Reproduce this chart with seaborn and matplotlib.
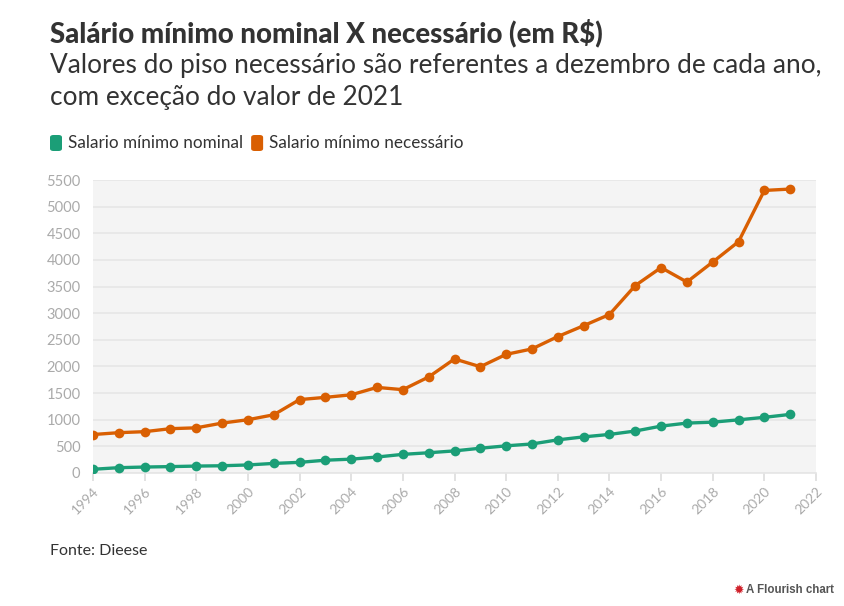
import matplotlib
matplotlib.use("Agg")
import matplotlib.pyplot as plt
import seaborn as sns
import pandas as pd
from matplotlib.patches import FancyBboxPatch

sns.set_theme(style="white")
plt.rcParams["font.family"] = ["Lato", "DejaVu Sans"]

anos = list(range(1994, 2022))
nominal = [70, 100, 112, 120, 130, 136, 151, 180, 200, 240, 260, 300, 350, 380,
           415, 465, 510, 545, 622, 678, 724, 788, 880, 937, 954, 998, 1045, 1100]
necessario = [722, 757, 776, 832, 848, 937, 1000, 1093, 1378, 1420, 1468, 1607, 1564, 1803,
              2141, 1995, 2227, 2329, 2561, 2765, 2975, 3518, 3856, 3585, 3960, 4342, 5304, 5330]
nomes = ["Salario mínimo nominal", "Salario mínimo necessário"]
cores = ["#1b9e77", "#d95f02"]

df = pd.DataFrame({"Ano": anos * 2,
                   "Valor": nominal + necessario,
                   "Serie": [nomes[0]] * len(anos) + [nomes[1]] * len(anos)})

fig = plt.figure(figsize=(8.44, 6.06), dpi=100)
ax = fig.add_axes([93 / 844, 1 - 473 / 606, (816 - 93) / 844, (473 - 180) / 606])
ax.set_facecolor("#f4f4f4")

sns.lineplot(data=df, x="Ano", y="Valor", hue="Serie", palette=cores, marker="o",
             markersize=7, markeredgewidth=0, linewidth=2.4, ax=ax, legend=False, zorder=3)

ax.set_xlim(1994, 2022)
ax.set_ylim(0, 5500)
ax.set_yticks(range(0, 5501, 500))
ax.set_xticks(range(1994, 2023, 2))
ax.grid(axis="y", color="#e6e6e6", linewidth=1.2, zorder=0)
ax.grid(axis="x", visible=False)
for s in ["top", "right", "left"]:
    ax.spines[s].set_visible(False)
ax.spines["bottom"].set_color("#e6e6e6")
ax.tick_params(axis="y", colors="#aaaaaa", labelcolor="#aaaaaa", labelsize=10.5, length=0, pad=9)
ax.tick_params(axis="x", colors="#dddddd", labelcolor="#aaaaaa", labelsize=10, length=6,
               width=1.2, direction="out", bottom=True, pad=3)
for lab in ax.get_xticklabels():
    lab.set_rotation(45)
    lab.set_ha("right")
    lab.set_va("top")
    lab.set_rotation_mode("anchor")
ax.set_xlabel("")
ax.set_ylabel("")

fig.text(50 / 844, 1 - 33 / 606, "Salário mínimo nominal X necessário (em R$)",
         fontsize=19.9, fontweight="black", color="#333333", va="center", ha="left")
fig.text(50 / 844, 1 - 65 / 606, "Valores do piso necessário são referentes a dezembro de cada ano,",
         fontsize=18.9, color="#333333", va="center", ha="left")
fig.text(50 / 844, 1 - 98 / 606, "com exceção do valor de 2021",
         fontsize=18.9, color="#333333", va="center", ha="left")

# legenda
x0 = 50
for nome, cor in zip(nomes, cores):
    fig.patches.append(FancyBboxPatch((x0 / 844, 1 - 151 / 606), 12 / 844, 16 / 606,
                                      boxstyle="round,pad=0,rounding_size=0.004",
                                      transform=fig.transFigure, facecolor=cor,
                                      edgecolor="none"))
    t = fig.text((x0 + 18) / 844, 1 - 143 / 606, nome, fontsize=12.3, color="#333333",
                 va="center", ha="left")
    fig.canvas.draw()
    bb = t.get_window_extent()
    x0 = bb.x1 + 8

fig.text(50 / 844, 1 - 551 / 606, "Fonte: Dieese", fontsize=11.5, color="#333333",
         va="center", ha="left")
fig.text(744 / 844, 1 - 590 / 606, "✹", fontsize=9, color="#d0202a", va="center", ha="right",
         family=["DejaVu Sans"])
fig.text(746 / 844, 1 - 590 / 606, "A Flourish chart", fontsize=8.3, fontweight="bold",
         color="#555555", va="center", ha="left", family=["Liberation Sans", "DejaVu Sans"])

fig.savefig("out.png", dpi=100)
